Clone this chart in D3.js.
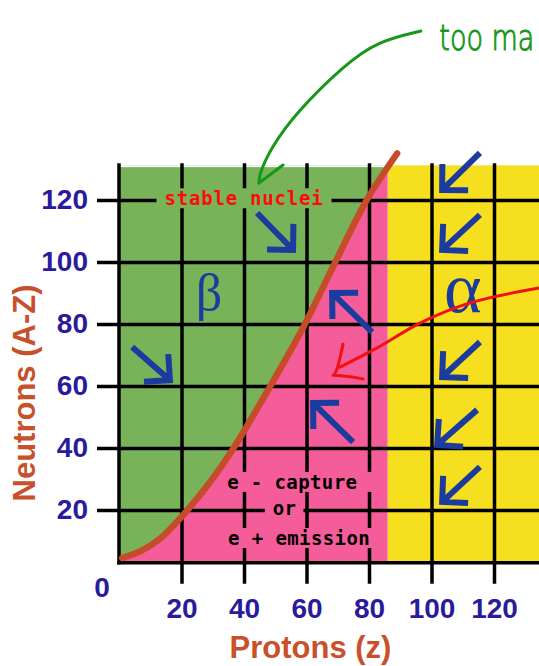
<!DOCTYPE html>
<html><head><meta charset="utf-8">
<script src="https://cdn.jsdelivr.net/npm/d3@7"></script>
<style>body{margin:0;background:#fff;overflow:hidden}svg{display:block}</style>
</head><body><svg id="c" width="539" height="666"></svg>
<script>
// ---- data ----
const zTicks = [20, 40, 60, 80, 100, 120];
const nTicks = [20, 40, 60, 80, 100, 120];
const zExtent = [0, 145];
const nExtent = [3, 130.6];
const yellowStartZ = 86;
// line of stable nuclei
const stableZ = [1, 7, 14, 20, 28, 37, 47, 59, 69, 79, 89];
const stableN = [4.5, 6.8, 11.5, 17.8, 27.5, 40.5, 57.5, 79, 99.5, 119.5, 135];
// decay arrows (tail -> head)
const arrowTailZ = [4.2, 44.2, 81, 74.9, 115.5, 115.5, 115.5, 114.6, 115.5];
const arrowTailN = [72.6, 115.8, 77.4, 41.9, 135.2, 115.2, 74.2, 52.3, 33.9];
const arrowHeadZ = [16.3, 55.7, 68.2, 62.1, 103.4, 103.4, 103.4, 101.8, 103.4];
const arrowHeadN = [61.9, 103.9, 90, 54.5, 123.2, 103.9, 62.9, 41, 22.6];
// boxed labels
const boxText = ["stable nuclei", "e - capture", "or", "e + emission"];
const boxZ = [40, 34.6, 53, 34.9];
const boxN = [118.3, 26.8, 18.4, 8.7];
const boxAnchor = ["middle", "start", "middle", "start"];
// greek labels
const greekText = ["β", "α"];
const greekZ = [28.8, 110];
const greekN = [84.5, 83.9];
// hand-drawn annotations
const greenArrowZ = [96.6, 82.9, 72, 56.6, 48.6, 44.8, 44.8];
const greenArrowN = [174.5, 171.3, 163.5, 148.1, 136.8, 128.1, 125.5];
const greenHeadZ = [44.8, 52.5];
const greenHeadN = [125.5, 131.3];
const redArrowZ = [134.4, 112.3, 96.3, 82.6, 70.7];
const redArrowN = [91.6, 86.8, 80.3, 72.3, 66.1];
const redHeadZ = [71.7, 68.5, 78.1];
const redHeadN = [73.5, 63.5, 62.3];
const noteText = "too ma";
const noteZ = 102.5, noteN = 168.5;

// ---- style ----
const GREEN = "#78b35a", PINK = "#f45d99", YELLOW = "#f6df1f";
const CURVE = "#c64b29", BLUE = "#1b3c9e", TICK = "#2a1b9c", TITLE = "#c8512c";

const svg = d3.select("#c");
const x = d3.scaleLinear().domain([0, 120]).range([119, 494]);
const y = d3.scaleLinear().domain([0, 120]).range([572, 200]);
const L = x(zExtent[0]), R = x(zExtent[1]), T = y(nExtent[1]), B = y(nExtent[0]);

svg.append("clipPath").attr("id", "plot").append("rect")
  .attr("x", L).attr("y", T - 2).attr("width", R - L).attr("height", B - T + 2);
const fills = svg.append("g").attr("clip-path", "url(#plot)");
fills.append("rect").attr("x", x(0)).attr("y", T).attr("width", x(yellowStartZ) - x(0)).attr("height", B - T).attr("fill", PINK);
fills.append("rect").attr("x", x(yellowStartZ)).attr("y", T - 2).attr("width", R - x(yellowStartZ)).attr("height", B - T + 2).attr("fill", YELLOW);

const pts = stableZ.map((z, i) => [x(z), y(stableN[i])]);
const line = d3.line().curve(d3.curveMonotoneX);
const cpath = line(pts);
const last = pts[pts.length - 1];
fills.append("path")
  .attr("d", cpath + `L${L - 5},${last[1]}L${L - 5},${pts[0][1]}Z`)
  .attr("fill", GREEN);
fills.append("rect").attr("x", L).attr("y", T - 3).attr("width", x(yellowStartZ) - L).attr("height", 3).attr("fill", "#fff");

// axes / grid
const font = '"Liberation Sans", Arial, sans-serif';
const xAxis = svg.append("g").attr("transform", `translate(0,${B + 21})`)
  .call(d3.axisBottom(x).tickValues(zTicks).tickSize(-(B + 21 - T + 4)).tickPadding(14));
xAxis.select(".domain").remove();
xAxis.selectAll("line").attr("stroke", "#000").attr("stroke-width", 3.5);
xAxis.selectAll("text").attr("fill", TICK).style("font", `bold 28px ${font}`);

const yAxis = svg.append("g").attr("transform", `translate(${L - 22},0)`)
  .call(d3.axisLeft(y).tickValues(nTicks).tickSize(-(R - L + 22)).tickPadding(9));
yAxis.select(".domain").remove();
yAxis.selectAll("line").attr("stroke", "#000").attr("stroke-width", 3.5);
yAxis.selectAll("text").attr("fill", TICK).style("font", `bold 28px ${font}`);

svg.append("line").attr("x1", L).attr("x2", L).attr("y1", T - 4).attr("y2", B + 1.75).attr("stroke", "#000").attr("stroke-width", 3.5);
svg.append("line").attr("x1", L - 1.75).attr("x2", R).attr("y1", B).attr("y2", B).attr("stroke", "#000").attr("stroke-width", 3.5);

svg.append("text").attr("x", L - 17).attr("y", B + 34).attr("text-anchor", "middle")
  .attr("fill", TICK).style("font", `bold 28px ${font}`).text("0");

// boxed labels with knockout
const boxPadL = [8, 12, 8, 12];
const boxPadR = [8, 16, 7, 12];
boxText.forEach((t, i) => {
  const grp = svg.append("g");
  const bg = grp.append("rect");
  const tx = grp.append("text").attr("x", x(boxZ[i])).attr("y", y(boxN[i]))
    .attr("text-anchor", boxAnchor[i])
    .attr("fill", i === 0 ? "#ff0a0a" : "#000")
    .style("font", 'bold 19px "DejaVu Sans Mono", monospace')
    .style("letter-spacing", i === 0 ? "0.8px" : "0.4px")
    .text(t);
  const bb = tx.node().getBBox();
  bg.attr("x", bb.x - boxPadL[i]).attr("y", bb.y + 1).attr("width", bb.width + boxPadL[i] + boxPadR[i])
    .attr("height", bb.height - 2).attr("fill", i === 0 ? GREEN : PINK);
});

// decay arrows
const ag = svg.append("g").attr("fill", "none").attr("stroke", BLUE).attr("stroke-width", 6)
  .attr("stroke-linejoin", "miter").attr("stroke-miterlimit", 4);
arrowTailZ.forEach((z, i) => {
  const x0 = x(z), y0 = y(arrowTailN[i]), x1 = x(arrowHeadZ[i]), y1 = y(arrowHeadN[i]);
  const len = Math.hypot(x1 - x0, y1 - y0);
  const ux = (x0 - x1) / len, uy = (y0 - y1) / len;
  const a = 26, c = Math.SQRT1_2;
  const p1 = [x1 + a * (ux * c - uy * c), y1 + a * (ux * c + uy * c)];
  const p2 = [x1 + a * (ux * c + uy * c), y1 + a * (-ux * c + uy * c)];
  ag.append("path").attr("d", `M${x0},${y0}L${x1 + ux * 3},${y1 + uy * 3}M${p1[0]},${p1[1]}L${x1},${y1}L${p2[0]},${p2[1]}`);
});

// stable line
svg.append("path").attr("d", cpath).attr("fill", "none").attr("stroke", CURVE)
  .attr("stroke-width", 6.5).attr("stroke-linecap", "round");

// greek letters
greekText.forEach((t, i) => {
  svg.append("text").attr("x", x(greekZ[i])).attr("y", y(greekN[i])).attr("text-anchor", "middle")
    .attr("fill", BLUE).style("font", `${i === 0 ? 52 : 72}px "Liberation Serif", "Times New Roman", serif`)
    .text(t);
});

// axis titles
svg.append("text").attr("x", (x(0) + x(120)) / 2 + 4).attr("y", 658).attr("text-anchor", "middle")
  .attr("fill", TITLE).style("font", `bold 31px ${font}`).text("Protons (z)");
svg.append("text").attr("transform", `translate(35,${(y(0) + y(120)) / 2 + 7}) rotate(-90)`)
  .attr("text-anchor", "middle").attr("fill", TITLE).style("font", `bold 31px ${font}`).text("Neutrons (A-Z)");

// hand-drawn annotations
const hand = d3.line().curve(d3.curveBasis);
svg.append("path").attr("d", hand(greenArrowZ.map((z, i) => [x(z), y(greenArrowN[i])])))
  .attr("fill", "none").attr("stroke", "#17981a").attr("stroke-width", 3).attr("stroke-linecap", "round");
svg.append("path").attr("d", d3.line()(greenHeadZ.map((z, i) => [x(z), y(greenHeadN[i])])))
  .attr("fill", "none").attr("stroke", "#17981a").attr("stroke-width", 3).attr("stroke-linecap", "round");
svg.append("text").attr("transform", `translate(${x(noteZ)},${y(noteN)}) scale(1,1.3)`)
  .attr("fill", "#17981a").attr("stroke", "#17981a").attr("stroke-width", 0.8)
  .style("font", '200 27px "DejaVu Sans", sans-serif').text(noteText);

svg.append("path").attr("d", d3.line().curve(d3.curveCatmullRom.alpha(0.5))(redArrowZ.map((z, i) => [x(z), y(redArrowN[i])])))
  .attr("fill", "none").attr("stroke", "#f21010").attr("stroke-width", 3).attr("stroke-linecap", "round");
svg.append("path").attr("d", d3.line().curve(d3.curveMonotoneX)(redHeadZ.map((z, i) => [x(z), y(redHeadN[i])])))
  .attr("fill", "none").attr("stroke", "#f21010").attr("stroke-width", 3).attr("stroke-linecap", "round").attr("stroke-linejoin", "round");
</script>
</body></html>
